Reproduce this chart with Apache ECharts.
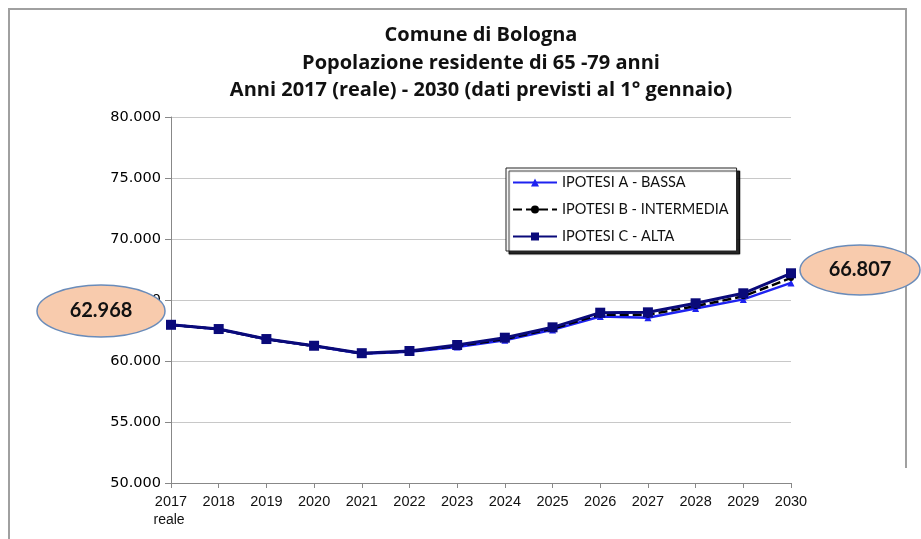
<!DOCTYPE html>
<html>
<head>
<meta charset="utf-8">
<script src="https://cdn.jsdelivr.net/npm/echarts@6/dist/echarts.min.js"></script>
<style>
html,body{margin:0;padding:0;background:#fff;}
#chart{width:921px;height:539px;}
</style>
</head>
<body>
<div id="chart"></div>
<script>
const years = ['2017','2018','2019','2020','2021','2022','2023','2024','2025','2026','2027','2028','2029','2030'];
const seriesNames = ['IPOTESI A - BASSA', 'IPOTESI B - INTERMEDIA', 'IPOTESI C - ALTA'];
const ipotesiA = [62968, 62600, 61780, 61230, 60600, 60750, 61150, 61700, 62550, 63650, 63550, 64300, 65050, 66400];
const ipotesiB = [62968, 62600, 61780, 61230, 60620, 60780, 61220, 61800, 62650, 63800, 63800, 64500, 65300, 66807];
const ipotesiC = [62968, 62620, 61800, 61250, 60640, 60820, 61310, 61910, 62760, 63960, 63990, 64730, 65550, 67190];
const titleLines = ['Comune di Bologna', 'Popolazione residente di 65 -79 anni', 'Anni 2017 (reale) - 2030 (dati previsti al 1° gennaio)'];
const labelStart = '62.968';
const labelEnd = '66.807';

function fmt(v){ return String(v).replace(/\B(?=(\d{3})+(?!\d))/g, '.'); }

const chart = echarts.init(document.getElementById('chart'), null, {renderer:'canvas'});
const option = {
  backgroundColor: '#fff',
  animation: false,
  grid: {left: 171, right: 130, top: 117, bottom: 56},
  xAxis: {
    type: 'category',
    data: years,
    boundaryGap: false,
    axisLine: {lineStyle: {color: '#888', width: 1}},
    axisTick: {show: true, length: 5, interval: 0, lineStyle: {color: '#888'}},
    axisLabel: {
      interval: 0,
      color: '#111', fontFamily: 'Liberation Sans', fontSize: 14.5, margin: 9, lineHeight: 19,
      formatter: function(v, i){ return i === 0 ? v + '\n{l|reale }' : v; },
      rich: {l: {fontFamily: 'Liberation Sans', fontSize: 14, color: '#111', lineHeight: 19}}
    }
  },
  yAxis: {
    type: 'value', min: 50000, max: 80000, interval: 5000,
    axisLine: {show: true, lineStyle: {color: '#888', width: 1}},
    axisTick: {show: true, length: 6, lineStyle: {color: '#888'}},
    splitLine: {lineStyle: {color: '#c8c8c8', width: 1}},
    axisLabel: {color: '#000', fontFamily: 'DejaVu Sans', fontSize: 14.5, margin: 10, formatter: fmt}
  },
  legend: {
    orient: 'vertical',
    left: 506, top: 168,
    width: 226,
    padding: [7, 8, 7, 6],
    itemGap: 12,
    itemWidth: 44, itemHeight: 10,
    backgroundColor: '#fff',
    borderColor: '#222', borderWidth: 1,
    shadowColor: 'rgba(0,0,0,0.85)', shadowBlur: 1, shadowOffsetX: 3, shadowOffsetY: 3,
    textStyle: {fontFamily: 'Lato', fontSize: 14.5, color: '#111', padding:[0,0,0,0]},
    data: seriesNames
  },
  series: [
    {name: seriesNames[0], type: 'line', data: ipotesiA, symbol: 'triangle', symbolSize: 7,
     lineStyle: {color: '#1e22f0', width: 2.5}, itemStyle: {color: '#1e22f0'}, z: 2},
    {name: seriesNames[1], type: 'line', data: ipotesiB, symbol: 'circle', symbolSize: 6,
     lineStyle: {color: '#000', width: 2.5, type: [9, 4]}, itemStyle: {color: '#000'}, z: 3},
    {name: seriesNames[2], type: 'line', data: ipotesiC, symbol: 'rect', symbolSize: 10,
     lineStyle: {color: '#0a0a7a', width: 3}, itemStyle: {color: '#0a0a7a'}, z: 4}
  ],
  graphic: [
    {type: 'polyline', z: 0, shape: {points: [[9, 539], [9, 9], [906, 9], [906, 468]]},
     style: {stroke: '#a0a0a0', lineWidth: 2, fill: null}},
    {type: 'text', x: 481, y: 22, z: 10,
     style: {text: titleLines.join('\n'), fontFamily: 'Open Sans', fontWeight: 'bold', fontSize: 20, textAlign: 'center', lineHeight: 27.5, fill: '#111'}},
    {type: 'ellipse', z: 20, shape: {cx: 101, cy: 311, rx: 64, ry: 26},
     style: {fill: '#f8cbad', stroke: '#6a8cba', lineWidth: 1.5}},
    {type: 'text', z: 21, x: 101, y: 311,
     style: {text: labelStart, fontFamily: 'Lato', fontWeight: 'bold', fontSize: 20, textAlign: 'center', textVerticalAlign: 'middle', fill: '#111'}},
    {type: 'ellipse', z: 20, shape: {cx: 860, cy: 270, rx: 60, ry: 25},
     style: {fill: '#f8cbad', stroke: '#6a8cba', lineWidth: 1.5}},
    {type: 'text', z: 21, x: 860, y: 270,
     style: {text: labelEnd, fontFamily: 'Lato', fontWeight: 'bold', fontSize: 20, textAlign: 'center', textVerticalAlign: 'middle', fill: '#111'}}
  ]
};
chart.setOption(option);
</script>
</body>
</html>
